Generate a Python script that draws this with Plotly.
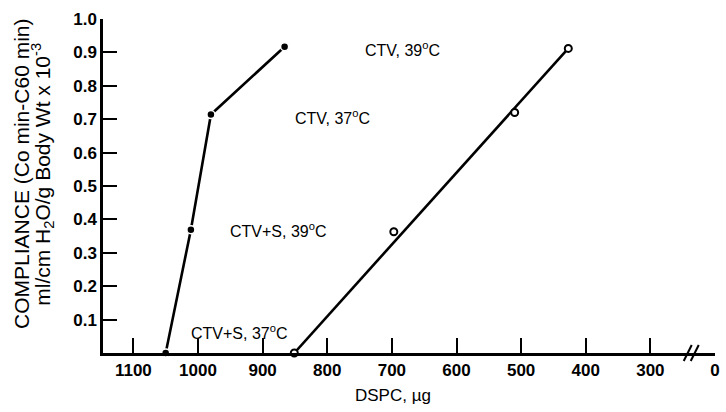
import plotly.graph_objects as go

# Data (DSPC in µg, compliance)
ctv_s_dspc = [1050, 1011, 980, 866]
ctv_s_comp = [0.0, 0.369, 0.714, 0.917]
ctv_dspc = [851, 697, 510, 427]
ctv_comp = [0.0, 0.363, 0.72, 0.912]

x_tick_vals = [1100, 1000, 900, 800, 700, 600, 500, 400, 300, 200]
x_tick_text = ["1100", "1000", "900", "800", "700", "600", "500", "400", "300", "0"]
y_tick_vals = [0.1, 0.2, 0.3, 0.4, 0.5, 0.6, 0.7, 0.8, 0.9, 1.0]
y_tick_text = ["0.1", "0.2", "0.3", "0.4", "0.5", "0.6", "0.7", "0.8", "0.9", "1.0"]

labels = ["CTV, 39<sup>o</sup>C", "CTV, 37<sup>o</sup>C", "CTV+S, 39<sup>o</sup>C", "CTV+S, 37<sup>o</sup>C"]
label_x = [684, 792, 875, 936]
label_y = [0.911, 0.707, 0.368, 0.062]

axis_break_at = 236

FONT = "Liberation Sans, Arial, sans-serif"

fig = go.Figure()

fig.add_trace(go.Scatter(
    x=ctv_s_dspc, y=ctv_s_comp, mode="lines+markers",
    line=dict(color="black", width=2.6),
    marker=dict(symbol="circle", size=8, color="black", line=dict(color="white", width=1.5)),
    cliponaxis=False, showlegend=False))

fig.add_trace(go.Scatter(
    x=[ctv_dspc[0], ctv_dspc[-1]], y=[ctv_comp[0], ctv_comp[-1]], mode="lines",
    line=dict(color="black", width=2.6), cliponaxis=False, showlegend=False))

fig.add_trace(go.Scatter(
    x=ctv_dspc, y=ctv_comp, mode="markers",
    marker=dict(symbol="circle", size=7, color="white", line=dict(color="black", width=2)),
    cliponaxis=False, showlegend=False))

for t, lx, ly in zip(labels, label_x, label_y):
    fig.add_annotation(x=lx, y=ly, xref="x", yref="y", text=t, showarrow=False,
                       font=dict(family=FONT, size=16, color="black"))

# axis break mark: two short slashes across the x axis line
for dx in (-4, 3):
    fig.add_shape(type="line", xref="x", yref="paper",
                  xsizemode="pixel", ysizemode="pixel",
                  xanchor=axis_break_at, yanchor=0,
                  x0=dx - 4, y0=-8, x1=dx + 4, y1=8,
                  line=dict(color="black", width=2))

# y title (two lines)
fig.add_annotation(x=-0.133, y=0.535, xref="paper", yref="paper", textangle=-90,
                   text="COMPLIANCE (Co min-C60 min)",
                   showarrow=False, xanchor="center", yanchor="middle",
                   font=dict(family=FONT, size=21, color="black"))
fig.add_annotation(x=-0.099, y=0.535, xref="paper", yref="paper", textangle=-90,
                   text="ml/cm H<sub>2</sub>O/g Body Wt x 10<sup>-3</sup>",
                   showarrow=False, xanchor="center", yanchor="middle",
                   font=dict(family=FONT, size=21, color="black"))

# x title
fig.add_annotation(x=0.474, y=-0.127, xref="paper", yref="paper", text="DSPC, µg",
                   showarrow=False, yanchor="middle",
                   font=dict(family=FONT, size=17, color="black"))

fig.update_layout(
    width=726, height=412,
    margin=dict(l=103, r=6, t=19, b=59),
    plot_bgcolor="white", paper_bgcolor="white",
    font=dict(family=FONT, color="black"),
    xaxis=dict(range=[1147, 200], tickvals=x_tick_vals, ticktext=x_tick_text,
               ticks="inside", ticklen=15, tickwidth=2, tickcolor="black",
               showline=True, linecolor="black", linewidth=2.5,
               showgrid=False, zeroline=False,
               tickfont=dict(family=FONT, size=17, color="black", weight="bold")),
    yaxis=dict(range=[0, 1.0], tickvals=y_tick_vals, ticktext=y_tick_text,
               ticks="inside", ticklen=14, tickwidth=2, tickcolor="black",
               showline=True, linecolor="black", linewidth=2.5,
               showgrid=False, zeroline=False,
               tickfont=dict(family=FONT, size=17, color="black", weight="bold")),
)

fig.write_html("out.html", config={"displayModeBar": False},
               post_script="document.body.style.margin='0';")
